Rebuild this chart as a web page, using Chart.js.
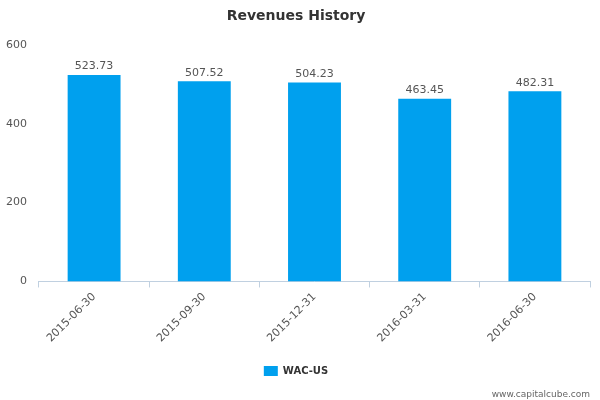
<!DOCTYPE html>
<html><head><meta charset="utf-8">
<script src="https://cdn.jsdelivr.net/npm/chart.js@4/dist/chart.umd.min.js"></script>
<style>html,body{margin:0;padding:0;background:#fff}#w{width:600px;height:400px;position:relative}</style>
</head><body><div id="w"><canvas id="c" width="600" height="400"></canvas></div>
<script>
const categories=["2015-06-30","2015-09-30","2015-12-31","2016-03-31","2016-06-30"];
const values=[523.73,507.52,504.23,463.45,482.31];
const yTicks=[0,200,400,600];
const labelsPlugin={id:'lbl',afterDatasetsDraw(ch){const c=ch.ctx;const m=ch.getDatasetMeta(0);c.save();c.font='11px "DejaVu Sans"';c.fillStyle='#555';c.textAlign='center';c.textBaseline='bottom';m.data.forEach((b,i)=>c.fillText(values[i].toFixed(2),b.x,b.y-3));c.restore();}};
const footPlugin={id:'foot',afterDraw(ch){const c=ch.ctx;c.save();c.font='9px "DejaVu Sans"';c.fillStyle='#666';c.textAlign='right';c.fillText('www.capitalcube.com',590,395);c.restore();}};
new Chart(document.getElementById('c'),{type:'bar',
data:{labels:categories,datasets:[{label:'WAC-US',data:values,backgroundColor:'#00a0ee',barPercentage:0.48,categoryPercentage:1}]},
options:{responsive:false,animation:false,
layout:{padding:{left:2,right:10,top:0,bottom:14}},
plugins:{title:{display:true,text:'Revenues History',color:'#333',font:{family:'DejaVu Sans',size:14,weight:'bold'},padding:{top:8,bottom:20}},
legend:{position:'bottom',labels:{color:'#333',font:{family:'DejaVu Sans',size:10,weight:'bold'},boxWidth:14,boxHeight:10,padding:18}},tooltip:{enabled:false}},
scales:{y:{min:0,max:600,afterBuildTicks:a=>{a.ticks=yTicks.map(v=>({value:v}))},grid:{display:false},border:{display:false},ticks:{color:'#555',font:{family:'DejaVu Sans',size:11},padding:4}},
x:{grid:{display:true,drawOnChartArea:false,color:'#c0d0e0',tickLength:6,offset:true},border:{color:'#c0d0e0'},ticks:{color:'#555',font:{family:'DejaVu Sans',size:11},maxRotation:45,minRotation:45}}}},
plugins:[labelsPlugin,footPlugin]});
</script></body></html>
